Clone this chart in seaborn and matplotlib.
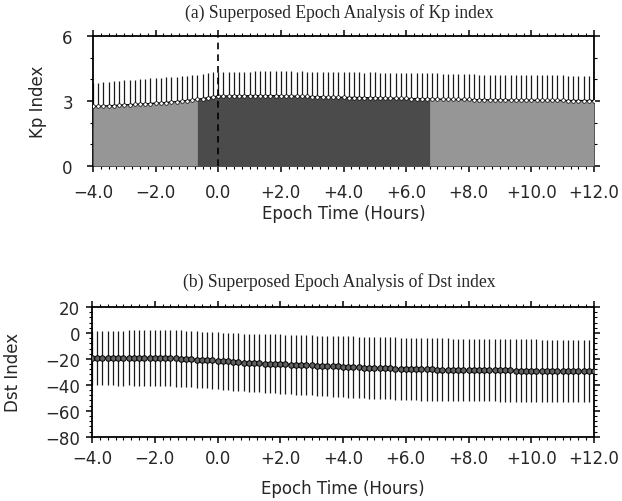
import numpy as np
import pandas as pd
import matplotlib
matplotlib.use("Agg")
import matplotlib.pyplot as plt
import seaborn as sns

# ---- data (10-minute resolution, epoch -4 h .. +12 h) ----
kp_mean = [2.76, 2.75, 2.77, 2.78, 2.79, 2.80,
           2.82, 2.83, 2.84, 2.86, 2.87, 2.88,
           2.90, 2.91, 2.93, 2.95, 2.97, 2.99,
           3.02, 3.05, 3.08, 3.11, 3.15, 3.19,
           3.22, 3.23, 3.23, 3.24, 3.24, 3.24,
           3.24, 3.25, 3.24, 3.24, 3.25, 3.24,
           3.24, 3.23, 3.23, 3.22, 3.22, 3.21,
           3.20, 3.20, 3.19, 3.18, 3.18, 3.17,
           3.17, 3.16, 3.16, 3.16, 3.15, 3.15,
           3.15, 3.14, 3.14, 3.13, 3.13, 3.12,
           3.12, 3.11, 3.11, 3.10, 3.10, 3.09,
           3.09, 3.08, 3.08, 3.08, 3.07, 3.07,
           3.07, 3.06, 3.06, 3.06, 3.05, 3.05,
           3.05, 3.05, 3.04, 3.04, 3.04, 3.04,
           3.04, 3.03, 3.03, 3.03, 3.03, 3.03,
           3.03, 3.02, 3.02, 3.02, 3.02, 3.02,
           3.02]
kp_std = [1.07, 1.08, 1.09, 1.11, 1.12, 1.13,
          1.14, 1.14, 1.15, 1.15, 1.16, 1.16,
          1.17, 1.17, 1.17, 1.16, 1.16, 1.16,
          1.15, 1.15, 1.14, 1.14, 1.13, 1.13,
          1.13, 1.13, 1.12, 1.12, 1.12, 1.12,
          1.12, 1.12, 1.13, 1.13, 1.13, 1.13,
          1.13, 1.14, 1.14, 1.14, 1.15, 1.15,
          1.15, 1.15, 1.16, 1.16, 1.16, 1.16,
          1.16, 1.16, 1.16, 1.16, 1.16, 1.17,
          1.17, 1.17, 1.17, 1.18, 1.18, 1.18,
          1.18, 1.18, 1.18, 1.18, 1.18, 1.18,
          1.18, 1.18, 1.17, 1.17, 1.17, 1.17,
          1.17, 1.17, 1.16, 1.16, 1.16, 1.16,
          1.16, 1.16, 1.16, 1.15, 1.15, 1.15,
          1.15, 1.15, 1.15, 1.15, 1.15, 1.15,
          1.15, 1.15, 1.15, 1.15, 1.15, 1.15,
          1.15]
dst_mean = [-19.5, -19.6, -19.4, -19.5, -19.4, -19.5,
            -19.4, -19.3, -19.4, -19.3, -19.3, -19.4,
            -19.3, -19.4, -19.5, -19.6, -19.7, -19.8,
            -20.0, -20.2, -20.5, -20.8, -21.0, -21.2,
            -21.4, -21.7, -22.0, -22.3, -22.5, -22.8,
            -23.0, -23.2, -23.4, -23.6, -23.8, -23.9,
            -24.0, -24.2, -24.4, -24.5, -24.7, -24.8,
            -25.0, -25.2, -25.3, -25.5, -25.7, -25.8,
            -26.0, -26.2, -26.3, -26.5, -26.7, -26.8,
            -27.0, -27.1, -27.3, -27.4, -27.5, -27.7,
            -27.8, -27.9, -27.9, -28.0, -28.1, -28.1,
            -28.2, -28.3, -28.3, -28.4, -28.5, -28.5,
            -28.6, -28.6, -28.7, -28.7, -28.8, -28.8,
            -28.9, -28.9, -28.9, -29.0, -29.0, -29.0,
            -29.0, -29.0, -29.1, -29.1, -29.1, -29.1,
            -29.1, -29.1, -29.1, -29.1, -29.1, -29.1,
            -29.1]
dst_std = [20.8, 20.9, 20.9, 21.0, 21.1, 21.1,
           21.2, 21.2, 21.3, 21.3, 21.4, 21.4,
           21.5, 21.5, 21.6, 21.6, 21.6, 21.7,
           21.7, 21.7, 21.8, 21.8, 21.8, 21.9,
           21.9, 22.0, 22.0, 22.1, 22.2, 22.2,
           22.3, 22.4, 22.5, 22.6, 22.7, 22.7,
           22.8, 22.9, 22.9, 23.0, 23.1, 23.1,
           23.2, 23.2, 23.3, 23.4, 23.4, 23.5,
           23.5, 23.6, 23.6, 23.7, 23.7, 23.8,
           23.8, 23.8, 23.9, 23.9, 24.0, 24.0,
           24.0, 24.0, 24.1, 24.1, 24.1, 24.1,
           24.1, 24.1, 24.1, 24.1, 24.1, 24.1,
           24.1, 24.1, 24.0, 24.0, 24.0, 24.0,
           24.0, 24.0, 24.0, 24.0, 24.0, 24.0,
           24.0, 24.0, 24.0, 24.0, 24.0, 24.0,
           24.0, 24.0, 23.9, 23.9, 23.9, 23.9,
           23.9]
epoch = -4.0 + np.arange(len(kp_mean)) / 6.0

xtick_vals = [-4, -2, 0, 2, 4, 6, 8, 10, 12]
xtick_labels = ["\u22124.0", "\u22122.0", "0.0", "+2.0", "+4.0", "+6.0", "+8.0", "+10.0", "+12.0"]
kp_ticks = [0, 3, 6]
kp_tick_labels = ["0", "3", "6"]
dst_ticks = [20, 0, -20, -40, -60, -80]
dst_tick_labels = ["20", "0", "\u221220", "\u221240", "\u221260", "\u221280"]
main_phase = (-0.667, 6.75)   # dark-shaded interval (hours)

df = pd.DataFrame({"epoch": epoch, "kp": kp_mean, "kp_sd": kp_std,
                   "dst": dst_mean, "dst_sd": dst_std})

sns.set_style("ticks")
plt.rcParams["font.family"] = ["DejaVu Sans"]

fig = plt.figure(figsize=(6.22, 5.02), dpi=100)
W, H = 622, 502
def box(l, r, t, b):
    return [l / W, 1 - b / H, (r - l) / W, (b - t) / H]

ax1 = fig.add_axes(box(93, 594, 37, 167))
ax2 = fig.add_axes(box(92, 594, 308, 437.7))

# ---- panel (a) Kp ----
light, dark = "#969696", "#4b4b4b"
ax1.errorbar(df["epoch"], df["kp"], yerr=df["kp_sd"], fmt="none",
             ecolor="#1a1a1a", elinewidth=0.9, capsize=0, zorder=2)
ax1.fill_between(df["epoch"], 0, df["kp"], color=light, lw=0, zorder=3)
xf = np.linspace(main_phase[0], main_phase[1], 300)
ax1.fill_between(xf, 0, np.interp(xf, df["epoch"], df["kp"]), color=dark, lw=0, zorder=3.5)
sns.lineplot(data=df, x="epoch", y="kp", ax=ax1, color="black", lw=1.0,
             marker="o", markersize=2.6, markerfacecolor="white",
             markeredgecolor="black", markeredgewidth=0.5, zorder=4)
ax1.axvline(0, color="black", lw=1.2, ls=(0, (4, 3)), zorder=5)
ax1.set_ylim(0, 6)
ax1.set_yticks(kp_ticks)
ax1.set_yticklabels(kp_tick_labels)
ax1.set_yticks([1, 2, 4, 5], minor=True)
ax1.set_ylabel("Kp Index", fontsize=12)
ax1.yaxis.set_label_coords(-0.092, 0.5)
ax1.tick_params(axis="y", pad=10)
ax1.tick_params(axis="x", pad=8)

# ---- panel (b) Dst ----
ax2.errorbar(df["epoch"], df["dst"], yerr=df["dst_sd"], fmt="none",
             ecolor="#1a1a1a", elinewidth=0.9, capsize=0, zorder=2)
sns.lineplot(data=df, x="epoch", y="dst", ax=ax2, color="black", lw=0.8,
             marker="o", markersize=4.0, markerfacecolor="#606060",
             markeredgecolor="black", markeredgewidth=0.7, zorder=4)
ax2.set_ylim(-80, 20)
ax2.set_yticks(dst_ticks)
ax2.set_yticklabels(dst_tick_labels)
ax2.set_yticks(np.arange(-80, 21, 4), minor=True)
ax2.set_ylabel("Dst Index", fontsize=12)
ax2.yaxis.set_label_coords(-0.139, 0.5)
ax2.tick_params(axis="y", pad=4)
ax2.tick_params(axis="x", pad=4)

for ax in (ax1, ax2):
    ax.set_xlim(-4, 12)
    ax.set_xticks(xtick_vals)
    ax.set_xticklabels(xtick_labels)
    ax.set_xticks(np.arange(-4, 12.01, 0.25), minor=True)
    ax.set_xlabel("Epoch Time (Hours)", fontsize=12)
    for s in ax.spines.values():
        s.set_visible(True)
        s.set_linewidth(1.3)
        s.set_color("black")
    ax.tick_params(which="both", direction="out", top=True, right=True,
                   labeltop=False, labelright=False, labelsize=12, color="black")
    ax.tick_params(which="major", length=4.5, width=1.1)
    ax.tick_params(which="minor", length=2.2, width=0.8)
    ax.grid(False)
    ax.set_facecolor("white")

ax1.xaxis.set_label_coords(0.5, -0.292)
ax2.xaxis.set_label_coords(0.5, -0.326)

fig.text(339 / W, 1 - 13 / H, "(a) Superposed Epoch Analysis of Kp index",
         ha="center", va="center", fontsize=12.7, family="Liberation Serif")
fig.text(339 / W, 1 - 282 / H, "(b) Superposed Epoch Analysis of Dst index",
         ha="center", va="center", fontsize=12.7, family="Liberation Serif")

fig.savefig("out.png", dpi=100, facecolor="white")
